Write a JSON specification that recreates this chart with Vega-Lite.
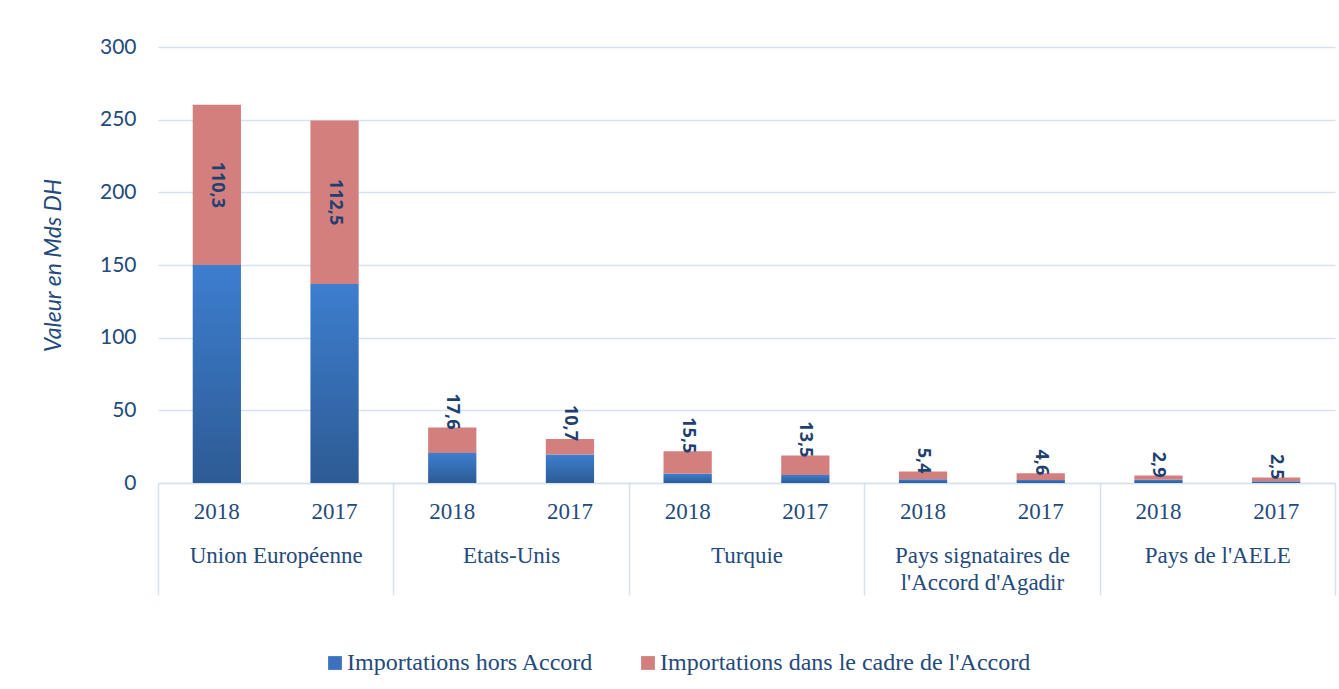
{
  "$schema": "https://vega.github.io/schema/vega-lite/v6.json",
  "width": 1177,
  "height": 436,
  "autosize": {"type": "none"},
  "padding": {"left": 158, "top": 47, "right": 4, "bottom": 206},
  "background": "white",
  "config": {
    "locale": {"number": {"decimal": ",", "thousands": " ", "grouping": [3], "currency": ["", ""]}},
    "view": {"stroke": null},
    "axis": {"labelColor": "#244A7C", "titleColor": "#244A7C"}
  },
  "data": {
    "values": [
      {"pays": "Union Européenne", "annee": "2018", "hors": 150.0, "dans": 110.3},
      {"pays": "Union Européenne", "annee": "2017", "hors": 137.0, "dans": 112.5},
      {"pays": "Etats-Unis", "annee": "2018", "hors": 20.6, "dans": 17.6},
      {"pays": "Etats-Unis", "annee": "2017", "hors": 19.6, "dans": 10.7},
      {"pays": "Turquie", "annee": "2018", "hors": 6.3, "dans": 15.5},
      {"pays": "Turquie", "annee": "2017", "hors": 5.5, "dans": 13.5},
      {"pays": "Pays signataires de l'Accord d'Agadir", "annee": "2018", "hors": 2.5, "dans": 5.4},
      {"pays": "Pays signataires de l'Accord d'Agadir", "annee": "2017", "hors": 2.1, "dans": 4.6},
      {"pays": "Pays de l'AELE", "annee": "2018", "hors": 2.3, "dans": 2.9},
      {"pays": "Pays de l'AELE", "annee": "2017", "hors": 1.2, "dans": 2.5}
    ]
  },
  "transform": [
    {"calculate": "datum.hors + datum.dans", "as": "total"},
    {"calculate": "datum.hors + datum.dans / 2", "as": "mid"}
  ],
  "encoding": {
    "x": {
      "field": "pays", "type": "nominal", "sort": null,
      "scale": {"paddingInner": 0, "paddingOuter": 0},
      "axis": {
        "title": null,
        "labelAngle": 0,
        "labelFont": "Liberation Serif",
        "labelFontSize": 23,
        "labelColor": "#244A7C",
        "labelBaseline": "top",
        "labelPadding": -51,
        "labelLineHeight": 27,
        "labelLimit": 0,
        "labelExpr": "datum.value == \"Pays signataires de l'Accord d'Agadir\" ? ['Pays signataires de', \"l'Accord d'Agadir\"] : datum.label",
        "ticks": true,
        "tickBand": "extent",
        "tickSize": 112,
        "tickColor": "#D5E2F2",
        "tickWidth": 1.5,
        "domain": true,
        "domainColor": "#D5E2F2",
        "domainWidth": 1.5,
        "grid": false
      }
    },
    "xOffset": {
      "field": "annee", "type": "nominal", "sort": ["2018", "2017"],
      "scale": {"paddingInner": 0.59, "paddingOuter": 0.295}
    }
  },
  "layer": [
    {
      "mark": {
        "type": "bar",
        "color": {
          "gradient": "linear", "x1": 0, "y1": 0, "x2": 0, "y2": 1,
          "stops": [{"offset": 0, "color": "#3D7ECF"}, {"offset": 1, "color": "#2D5B94"}]
        }
      },
      "encoding": {
        "y": {
          "field": "hors", "type": "quantitative",
          "scale": {"domain": [0, 300], "nice": false},
          "axis": {
            "title": "Valeur en Mds DH",
            "titleFont": "Lato",
            "titleFontStyle": "italic",
            "titleFontWeight": "normal",
            "titleFontSize": 23,
            "titlePadding": 34,
            "values": [0, 50, 100, 150, 200, 250, 300],
            "labelFont": "Lato",
            "labelFontSize": 21,
            "labelPadding": 22,
            "ticks": false,
            "domain": false,
            "grid": true,
            "gridColor": "#D5E2F2",
            "gridWidth": 1.5
          }
        }
      }
    },
    {
      "mark": {"type": "bar"},
      "encoding": {
        "y": {"field": "hors", "type": "quantitative", "title": "Valeur en Mds DH"},
        "y2": {"field": "total"},
        "color": {
          "datum": "Importations dans le cadre de l'Accord",
          "type": "nominal",
          "scale": {
            "domain": ["Importations hors Accord", "Importations dans le cadre de l'Accord"],
            "range": ["#3A72BE", "#D37F7E"]
          },
          "legend": {
            "title": null,
            "orient": "none",
            "legendX": 165,
            "legendY": 604,
            "direction": "horizontal",
            "symbolType": "square",
            "symbolSize": 190,
            "symbolStrokeWidth": 0,
            "labelFont": "Liberation Serif",
            "labelFontSize": 24,
            "labelColor": "#244A7C",
            "labelOffset": 0,
            "labelLimit": 0,
            "columnPadding": 42
          }
        }
      }
    },
    {
      "transform": [{"filter": "datum.dans > 50"}],
      "mark": {"type": "text", "angle": 90, "align": "center", "baseline": "middle", "font": "Noto Sans", "fontWeight": "bold", "fontSize": 18, "color": "#1F3F70"},
      "encoding": {
        "y": {"field": "mid", "type": "quantitative", "title": "Valeur en Mds DH"},
        "text": {"field": "dans", "type": "quantitative", "format": ".1f"}
      }
    },
    {
      "transform": [{"filter": "datum.dans <= 50"}],
      "mark": {"type": "text", "angle": 90, "align": "right", "baseline": "middle", "dx": 2, "font": "Noto Sans", "fontWeight": "bold", "fontSize": 18, "color": "#1F3F70"},
      "encoding": {
        "y": {"field": "total", "type": "quantitative", "title": "Valeur en Mds DH"},
        "text": {"field": "dans", "type": "quantitative", "format": ".1f"}
      }
    },
    {
      "mark": {"type": "text", "baseline": "top", "dy": 18, "font": "Liberation Serif", "fontSize": 23, "color": "#244A7C"},
      "encoding": {
        "y": {"datum": 0, "type": "quantitative", "title": "Valeur en Mds DH"},
        "text": {"field": "annee", "type": "nominal"}
      }
    }
  ]
}
